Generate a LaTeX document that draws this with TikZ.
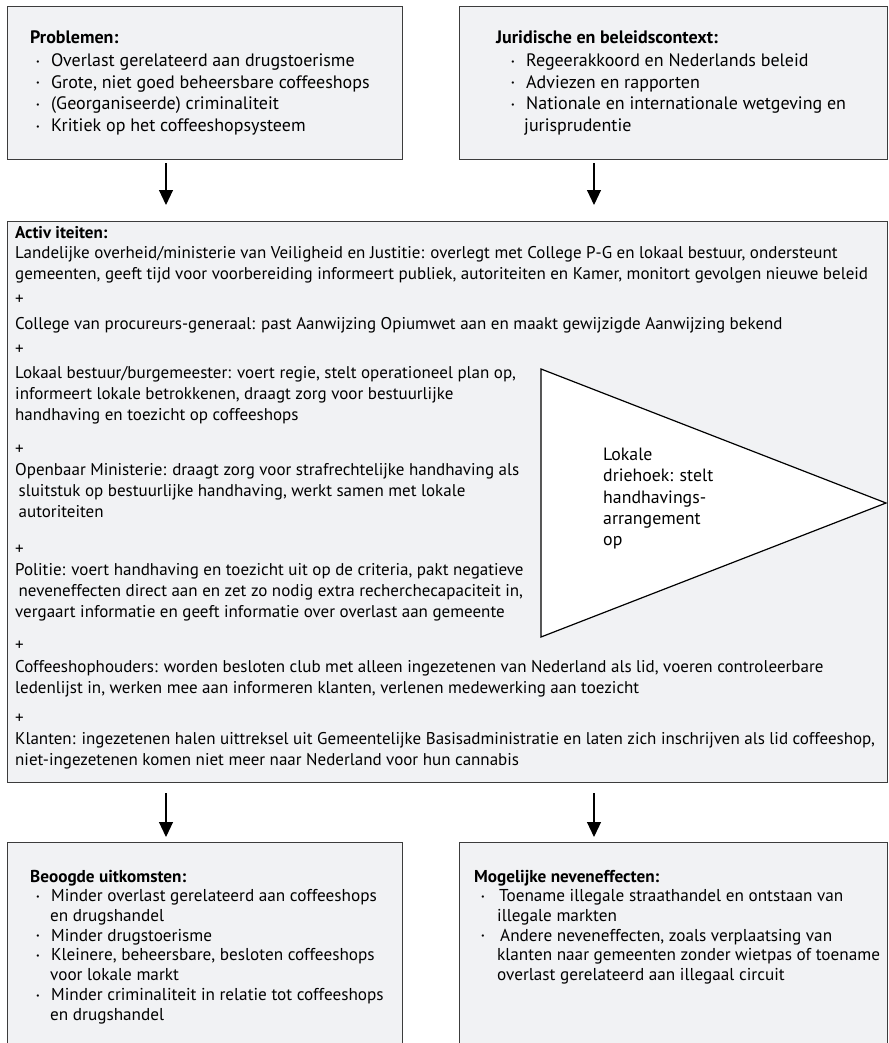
\documentclass[tikz,border=0pt]{standalone}
\usepackage{fontspec}
\setmainfont{PT Sans}
\usetikzlibrary{arrows.meta}
\definecolor{kadergrijs}{RGB}{241,242,244}
\definecolor{randgrijs}{RGB}{60,60,60}
\newcommand{\bul}[1][15pt]{\makebox[#1][l]{\raisebox{2.5pt}{\fontsize{8}{8}\selectfont\textbullet}}}

\begin{document}
\begin{tikzpicture}[x=1pt,y=-1pt,
    kader/.style={draw=randgrijs, line width=1.2pt, fill=kadergrijs, anchor=north west, inner sep=0pt},
    tekst/.style={anchor=base west, inner sep=0pt, align=left, font=\fontsize{17}{20.8}\selectfont},
    groot/.style={tekst, font=\fontsize{18}{21.7}\selectfont},
    klein/.style={tekst, font=\fontsize{17.2}{19.8}\selectfont},
    pijl/.style={-{Triangle[width=14pt,length=15pt]}, line width=1.1pt}]
        \useasboundingbox (0,0) rectangle (888,1043);

        % Boxes
        \node[kader, minimum width=395pt, minimum height=153pt] (problemen) at (7,6) {};
        \node[kader, minimum width=428pt, minimum height=153pt] (context) at (459,6) {};
        \node[kader, minimum width=880pt, minimum height=561pt] (activiteiten) at (7,221) {};
        \node[kader, minimum width=395pt, minimum height=215pt] (uitkomsten) at (7,842) {};
        \node[kader, minimum width=428pt, minimum height=215pt] (neveneffecten) at (459,842) {};

        % Arrows between the boxes
        \coordinate (links) at (166,0);
        \coordinate (rechts) at (594,0);
        \draw[pijl, shorten <=3pt, shorten >=16pt] (links |- problemen.south) -- (links |- activiteiten.north);
        \draw[pijl, shorten <=3pt, shorten >=16pt] (rechts |- context.south) -- (rechts |- activiteiten.north);
        \draw[pijl, shorten <=10pt, shorten >=5pt] (links |- activiteiten.south) -- (links |- uitkomsten.north);
        \draw[pijl, shorten <=10pt, shorten >=5pt] (rechts |- activiteiten.south) -- (rechts |- neveneffecten.north);

        % Problems (multi-line nodes sit on their last baseline)
        \node[groot] (problemen-kop) at (30,44) {\textbf{Problemen:}};
        \node[groot] (problemen-lijst) at (36,131.7) {\bul Overlast gerelateerd aan drugstoerisme\\
            \bul Grote, niet goed beheersbare coffeeshops\\
            \bul (Georganiseerde) criminaliteit\\
            \bul Kritiek op het coffeeshopsysteem};

        % Legal and policy context
        \node[groot] (context-kop) at (496,44) {\textbf{Juridische en beleidscontext:}};
        \node[groot] (context-lijst) at (511,131.7) {\bul Regeerakkoord en Nederlands beleid\\
            \bul Adviezen en rapporten\\
            \bul Nationale en internationale wetgeving en\\
            \hspace*{13pt}jurisprudentie};

        % Activities
        \node[tekst] (act-kop) at (15,238.5) {\textbf{Activ iteiten:}};
        \node[tekst] (landelijk) at (15,279.3) {Landelijke overheid/ministerie van Veiligheid en Justitie: overlegt met College P-G en lokaal bestuur, ondersteunt\\
            gemeenten, geeft tijd voor voorbereiding informeert publiek, autoriteiten en Kamer, monitort gevolgen nieuwe beleid};
        \node[tekst] (plus1) at (15,304) {+};
        \node[tekst] (college) at (15,329.5) {College van procureurs-generaal: past Aanwijzing Opiumwet aan en maakt gewijzigde Aanwijzing bekend};
        \node[tekst] (plus2) at (15,354) {+};
        \node[tekst] (bestuur) at (15,420.1) {Lokaal bestuur/burgemeester: voert regie, stelt operationeel plan op,\\
            informeert lokale betrokkenen, draagt zorg voor bestuurlijke\\
            handhaving en toezicht op coffeeshops};
        \node[tekst] (plus3) at (15,454) {+};
        \node[tekst] (om) at (15,517.1) {Openbaar Ministerie: draagt zorg voor strafrechtelijke handhaving als\\
            \hspace*{3.5pt}sluitstuk op bestuurlijke handhaving, werkt samen met lokale\\
            \hspace*{3.5pt}autoriteiten};
        \node[tekst] (plus4) at (15,554) {+};
        \node[tekst] (politie) at (15,617.1) {Politie: voert handhaving en toezicht uit op de criteria, pakt negatieve\\
            \hspace*{3.5pt}neveneffecten direct aan en zet zo nodig extra recherchecapaciteit in,\\
            vergaart informatie en geeft informatie over overlast aan gemeente};
        \node[tekst] (plus5) at (15,650) {+};
        \node[tekst] (houders) at (15,693.3) {Coffeeshophouders: worden besloten club met alleen ingezetenen van Nederland als lid, voeren controleerbare\\
            ledenlijst in, werken mee aan informeren klanten, verlenen medewerking aan toezicht};
        \node[tekst] (plus6) at (15,723) {+};
        \node[tekst] (klanten) at (15,765.3) {Klanten: ingezetenen halen uittreksel uit Gemeentelijke Basisadministratie en laten zich inschrijven als lid coffeeshop,\\
            niet-ingezetenen komen niet meer naar Nederland voor hun cannabis};

        % Local triangle
        \draw[fill=white, line width=1.2pt] (541,369) -- (886,503) -- (541,637) -- cycle;
        \node[tekst, font=\fontsize{17.8}{21.3}\selectfont] (driehoek) at (603,545.7) {Lokale\\
            driehoek: stelt\\
            handhavings-\\
            arrangement\\
            op};

        % Intended outcomes
        \node[klein] (uitkomsten-kop) at (30,882.5) {\textbf{Beoogde uitkomsten:}};
        \node[klein] (uitkomsten-lijst) at (36,1020.3) {\bul Minder overlast gerelateerd aan coffeeshops\\
            \hspace*{14pt}en drugshandel\\
            \bul Minder drugstoerisme\\
            \bul Kleinere, beheersbare, besloten coffeeshops\\
            \hspace*{14pt}voor lokale markt\\
            \bul Minder criminaliteit in relatie tot coffeeshops\\
            \hspace*{14pt}en drugshandel};

        % Possible side effects
        \node[klein] (neven-kop) at (474,882.5) {\textbf{Mogelijke neveneffecten:}};
        \node[klein] (neven-lijst) at (481,980.7) {\bul[18pt]Toename illegale straathandel en ontstaan van\\
            \hspace*{16pt}illegale markten\\
            \bul[19pt]Andere neveneffecten, zoals verplaatsing van\\
            \hspace*{16pt}klanten naar gemeenten zonder wietpas of toename\\
            \hspace*{16pt}overlast gerelateerd aan illegaal circuit};
    \end{tikzpicture}
\end{document}
